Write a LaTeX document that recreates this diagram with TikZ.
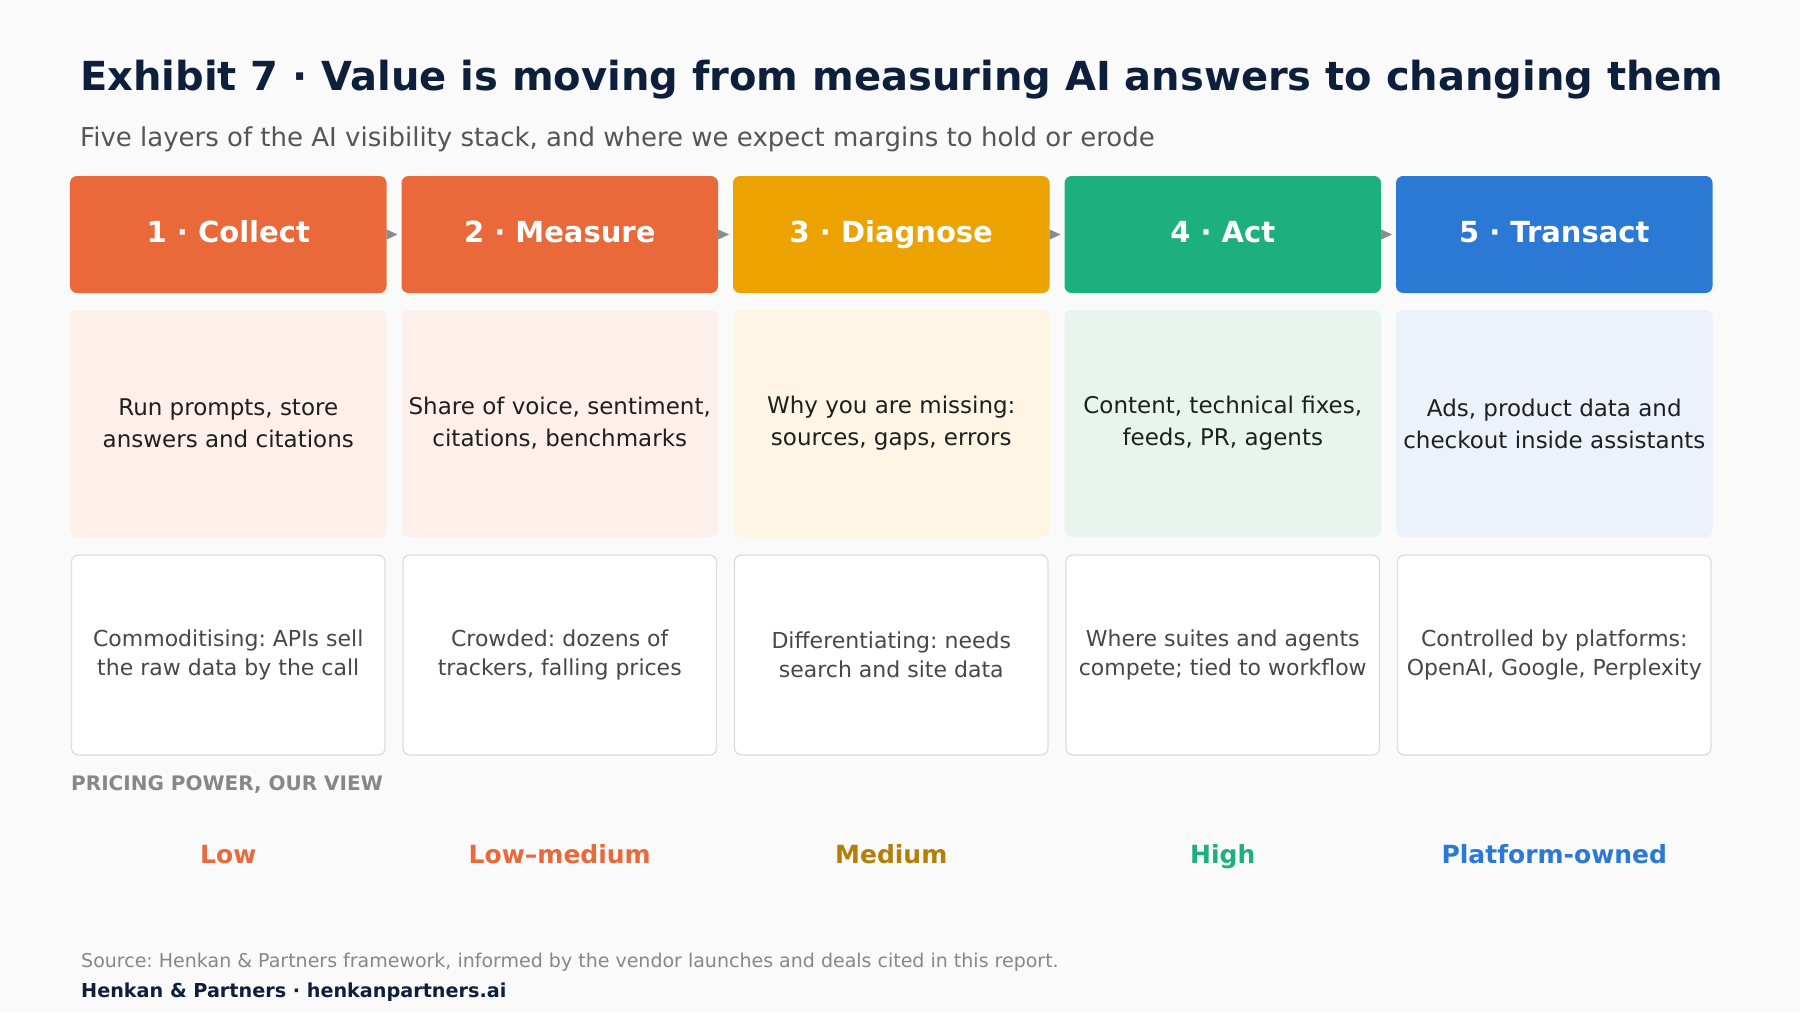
\documentclass[tikz,border=0pt]{standalone}
\usepackage{fontspec}
\setmainfont{DejaVu Sans}
\usetikzlibrary{arrows.meta,positioning}

\definecolor{bgc}{HTML}{FAFAFA}
\definecolor{navy}{HTML}{0E1F3B}
\definecolor{subgrey}{HTML}{555555}
\definecolor{orng}{HTML}{E9693A}
\definecolor{gold}{HTML}{ECA200}
\definecolor{grn}{HTML}{1DB07E}
\definecolor{blu}{HTML}{2B78D5}
\definecolor{orngl}{HTML}{FDEFEA}
\definecolor{goldl}{HTML}{FEF5E5}
\definecolor{grnl}{HTML}{E7F5EE}
\definecolor{blul}{HTML}{ECF2FB}
\definecolor{golddk}{HTML}{B47E0A}
\definecolor{boxline}{HTML}{DDDDDA}

\frenchspacing
\begin{document}
\begin{tikzpicture}
[
  x=1bp, y=-1bp,
  head/.style = {rounded corners=7bp, inner sep=0pt, outer sep=0pt,
    minimum width=316.5bp, minimum height=117bp, text=white,
    text height=22.5bp, text depth=7.5bp,
    font=\fontsize{29bp}{34bp}\selectfont\bfseries},
  desc/.style = {rounded corners=7bp, inner sep=0pt, outer sep=0pt,
    minimum width=316.5bp, minimum height=227bp, align=center, text=black!88,
    font=\fontsize{23bp}{32bp}\selectfont},
  note/.style = {rounded corners=7bp, draw=boxline, line width=1.3bp, fill=white,
    inner sep=0pt, outer sep=0pt, minimum width=313.5bp, minimum height=200bp,
    align=center, text=black!72, font=\fontsize{22bp}{29bp}\selectfont},
  level/.style = {font=\fontsize{25bp}{29bp}\selectfont\bfseries},
  flow/.style = {draw=gray!90, line width=0.5bp, shorten >=4bp,
    -{Triangle[length=11bp,width=10bp]}, gray!90},
]
\def\gap{15bp}

%background and frame
\fill[bgc] (0,0) rectangle (1800,1012);
\useasboundingbox (0,0) rectangle (1800,1012);

%title
\node[anchor=base west, inner sep=0pt, text=navy,
  font=\fontsize{40bp}{46bp}\selectfont\bfseries] (T) at (80,90)
  {Exhibit 7 · Value is moving from measuring AI answers to changing them};
\node[anchor=base west, inner sep=0pt, text=subgrey,
  font=\fontsize{26bp}{31bp}\selectfont] (S) at (80,146)
  {Five layers of the AI visibility stack, and where we expect margins to hold or erode};

%layer heads
\node[head, fill=orng] (H1) at (228.25,234.5) {1 · Collect};
\node[head, fill=orng, right=\gap of H1] (H2) {2 · Measure};
\node[head, fill=gold, right=\gap of H2] (H3) {3 · Diagnose};
\node[head, fill=grn, right=\gap of H3] (H4) {4 · Act};
\node[head, fill=blu, right=\gap of H4] (H5) {5 · Transact};

\draw[flow] (H1) -- (H2);
\draw[flow] (H2) -- (H3);
\draw[flow] (H3) -- (H4);
\draw[flow] (H4) -- (H5);

%what each layer does
\node[desc, fill=orngl, below=17bp of H1] (D1) {Run prompts, store\\answers and citations};
\node[desc, fill=orngl, below=17bp of H2] (D2) {Share of voice, sentiment,\\citations, benchmarks};
\node[desc, fill=goldl, below=17bp of H3] (D3) {Why you are missing:\\sources, gaps, errors};
\node[desc, fill=grnl, below=17bp of H4] (D4) {Content, technical fixes,\\feeds, PR, agents};
\node[desc, fill=blul, below=17bp of H5] (D5) {Ads, product data and\\checkout inside assistants};

%where margins go
\node[note, below=18bp of D1] (N1) {Commoditising: APIs sell\\the raw data by the call};
\node[note, below=18bp of D2] (N2) {Crowded: dozens of\\trackers, falling prices};
\node[note, below=18bp of D3] (N3) {Differentiating: needs\\search and site data};
\node[note, below=18bp of D4] (N4) {Where suites and agents\\compete; tied to workflow};
\node[note, below=18bp of D5] (N5) {Controlled by platforms:\\OpenAI, Google, Perplexity};

%pricing power
\node[anchor=base west, inner sep=0pt, text=black!47,
  font=\fontsize{20bp}{23bp}\selectfont\bfseries] (PP) at (71,790)
  {PRICING POWER, OUR VIEW};
\node[level, text=orng, anchor=base] (L1) at (N1 |- 0,863) {Low};
\node[level, text=orng, anchor=base] (L2) at (N2 |- 0,863) {Low–medium};
\node[level, text=golddk, anchor=base] (L3) at (N3 |- 0,863) {Medium};
\node[level, text=grn, anchor=base] (L4) at (N4 |- 0,863) {High};
\node[level, text=blu, anchor=base] (L5) at (N5 |- 0,863) {Platform-owned};

%source
\node[anchor=base west, inner sep=0pt, text=black!47,
  font=\fontsize{19bp}{22bp}\selectfont] (SRC) at (81,967)
  {Source: Henkan \& Partners framework, informed by the vendor launches and deals cited in this report.};
\node[anchor=base west, inner sep=0pt, text=navy,
  font=\fontsize{19.2bp}{22bp}\selectfont\bfseries] (FT) at (81,997)
  {Henkan \& Partners · henkanpartners.ai};
\end{tikzpicture}
\end{document}
